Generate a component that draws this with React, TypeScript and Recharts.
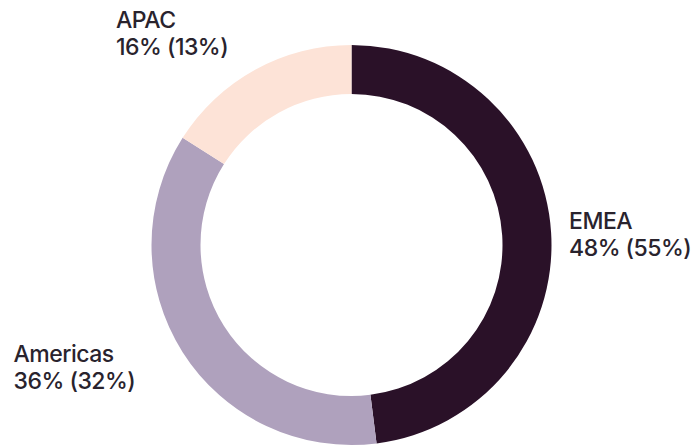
import React from 'react';
import { PieChart, Pie, Cell } from 'recharts';

const regions = ['EMEA', 'Americas', 'APAC'];
const shares = [48, 36, 16];
const priorShares = [55, 32, 13];

const COLORS = ['#2a1128', '#afa1bd', '#fde3d7'];
const FONT_FAMILY = 'Inter, "Liberation Sans", Arial, sans-serif';
const FONT_SIZE = 23;
const FONT_WEIGHT = 500;
const LETTER_SPACING = -0.5;
const LINE_H = 27;
const GAP_RIGHT = 18;
const GAP_LEFT = 56;
const RISE = 30;

const data = regions.map((name, i) => ({ name, value: shares[i], prior: priorShares[i] }));

let ctx: CanvasRenderingContext2D | null = null;
const measure = (s: string) => {
  if (!ctx) {
    const c = document.createElement('canvas');
    ctx = c.getContext('2d');
  }
  if (!ctx) return s.length * FONT_SIZE * 0.6;
  ctx.font = `${FONT_WEIGHT} ${FONT_SIZE}px ${FONT_FAMILY}`;
  (ctx as any).letterSpacing = `${LETTER_SPACING}px`;
  return ctx.measureText(s).width;
};

const renderLabel = (props: any) => {
  const { cx, cy, midAngle, outerRadius, index } = props;
  const RAD = Math.PI / 180;
  const cos = Math.cos(-midAngle * RAD);
  const sin = Math.sin(-midAngle * RAD);
  const rx = outerRadius + (cos >= 0 ? GAP_RIGHT : GAP_LEFT);
  const ry = outerRadius + GAP_RIGHT;
  const x = cx + rx * cos;
  const y = cy + ry * sin;
  const lines = [regions[index], `${shares[index]}% (${priorShares[index]}%)`];
  const w = Math.max(...lines.map(measure));
  const left = cos >= 0 ? x : x - w;
  const baseline = y + RISE * Math.min(0, sin);
  return (
    <text
      x={left}
      y={baseline}
      fill="#29232d"
      fontFamily={FONT_FAMILY}
      fontSize={FONT_SIZE}
      fontWeight={FONT_WEIGHT}
      letterSpacing={LETTER_SPACING}
      textAnchor="start"
    >
      <tspan x={left} y={baseline}>{lines[0]}</tspan>
      <tspan x={left} y={baseline + LINE_H}>{lines[1]}</tspan>
    </text>
  );
};

export default function App() {
  return (
    <div style={{ position: 'absolute', left: 0, top: 0, background: '#fff' }}>
      <PieChart width={697} height={446} margin={{ top: 0, right: 0, bottom: 0, left: 0 }}>
        <Pie
          data={data}
          dataKey="value"
          nameKey="name"
          cx={351.5}
          cy={245}
          innerRadius={151}
          outerRadius={200}
          startAngle={90}
          endAngle={-270}
          stroke="none"
          labelLine={false}
          label={renderLabel}
          isAnimationActive={false}
        >
          {data.map((d, i) => (
            <Cell key={d.name} fill={COLORS[i]} />
          ))}
        </Pie>
      </PieChart>
    </div>
  );
}
